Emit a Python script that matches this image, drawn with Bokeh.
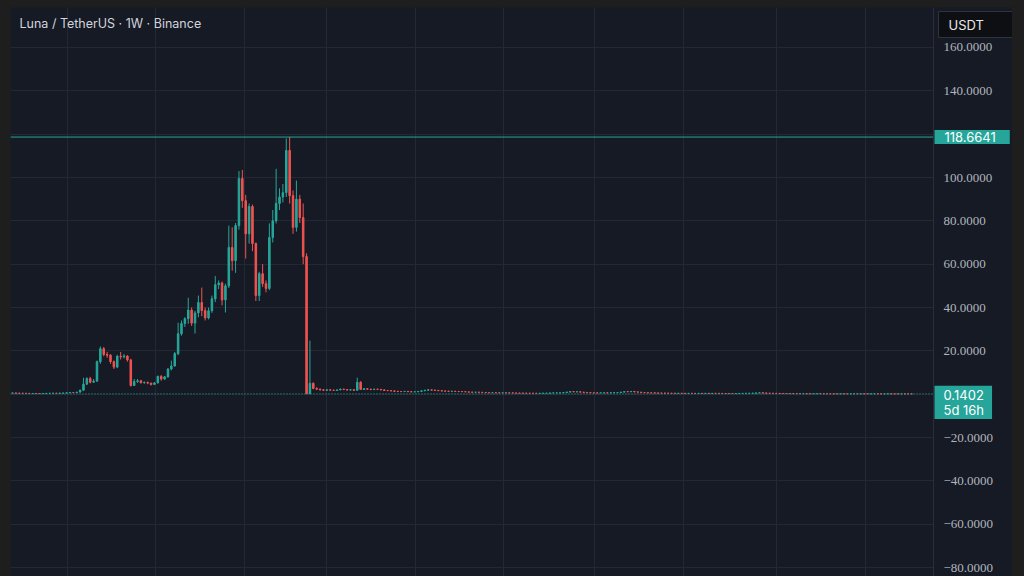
from bokeh.plotting import figure
from bokeh.models import (Range1d, FixedTicker, Span, Label, LabelSet,
                          BoxAnnotation, ColumnDataSource, Spacer)
from bokeh.layouts import column, row
from bokeh.embed import file_html
from bokeh.resources import INLINE

# ---------------- data (weekly candles) ----------------
symbol_title = "Luna / TetherUS · 1W · Binance"
currency = "USDT"
countdown = "5d 16h"

first_open = 0.50
close_ = [
    0.55, 0.47, 0.42, 0.40, 0.36, 0.30, 0.32, 0.31, 0.28, 0.32,
    0.38, 0.40, 0.45, 0.42, 0.48, 0.50, 0.62, 0.75, 0.72, 0.95,
    1.80, 4.60, 7.20, 5.50, 6.00, 15.00, 21.00, 18.30, 18.00, 15.00,
    12.50, 17.50, 17.20, 17.60, 15.80, 4.00, 5.80, 6.20, 5.30, 5.40,
    5.10, 4.50, 5.20, 8.20, 7.00, 8.00, 11.60, 13.00, 18.70, 27.90,
    32.60, 34.80, 38.80, 32.80, 37.50, 42.30, 38.60, 35.20, 38.50, 44.00,
    50.50, 51.30, 43.50, 50.00, 67.70, 61.60, 77.80, 99.50, 89.30, 74.00,
    86.60, 69.50, 45.50, 55.60, 51.00, 48.80, 72.30, 80.00, 88.00, 91.00,
    93.00, 112.50, 91.60, 77.00, 90.00, 81.50, 63.50, 0.20, 5.00, 2.60,
    2.30, 2.00, 1.80, 2.00, 1.85, 1.75, 1.95, 2.30, 2.10, 1.90,
    2.05, 1.80, 5.50, 2.20, 2.50, 2.30, 2.10, 2.30, 2.20, 2.00,
    1.70, 1.60, 1.50, 1.30, 1.25, 1.20, 1.30, 1.15, 1.05, 1.10,
    1.25, 1.55, 1.80, 2.00, 1.85, 1.75, 1.60, 1.45, 1.40, 1.30,
    1.35, 1.25, 1.20, 1.15, 1.05, 0.95, 0.90, 0.92, 0.85, 0.80,
    0.70, 0.65, 0.68, 0.66, 0.62, 0.65, 0.60, 0.58, 0.55, 0.50,
    0.48, 0.46, 0.43, 0.41, 0.40, 0.38, 0.40, 0.42, 0.45, 0.55,
    0.58, 0.60, 0.62, 0.75, 0.95, 1.20, 1.05, 1.10, 0.95, 0.80,
    0.70, 0.62, 0.60, 0.58, 0.62, 0.65, 0.60, 0.66, 0.70, 0.75,
    0.95, 1.20, 1.10, 1.25, 1.05, 0.95, 0.75, 0.70, 0.62, 0.60,
    0.55, 0.50, 0.47, 0.45, 0.43, 0.40, 0.38, 0.40, 0.38, 0.36,
    0.37, 0.35, 0.34, 0.36, 0.35, 0.37, 0.36, 0.38, 0.37, 0.35,
    0.33, 0.32, 0.31, 0.30, 0.32, 0.34, 0.38, 0.40, 0.42, 0.45,
    0.55, 0.62, 0.55, 0.45, 0.40, 0.38, 0.36, 0.33, 0.30, 0.28,
    0.26, 0.25, 0.24, 0.22, 0.23, 0.21, 0.20, 0.22, 0.23, 0.21,
    0.20, 0.19, 0.18, 0.17, 0.16, 0.17, 0.16, 0.15, 0.16, 0.17,
    0.16, 0.17, 0.16, 0.15, 0.16, 0.17, 0.16, 0.15, 0.155, 0.16,
    0.155, 0.15, 0.145, 0.15, 0.145, 0.142, 0.1402,
]
high_ = [
    0.65, 0.58, 0.50, 0.46, 0.43, 0.38, 0.36, 0.35, 0.33, 0.35,
    0.41, 0.46, 0.50, 0.49, 0.52, 0.56, 0.70, 0.85, 0.82, 1.05,
    2.10, 7.60, 7.80, 8.00, 7.00, 15.50, 22.00, 21.80, 19.50, 18.50,
    15.50, 18.20, 19.50, 18.50, 18.00, 16.30, 7.00, 7.00, 6.60, 5.90,
    5.80, 5.30, 5.60, 8.60, 8.80, 8.40, 12.00, 15.50, 19.50, 33.00,
    34.00, 35.50, 44.50, 40.00, 38.50, 45.50, 49.20, 40.00, 40.00, 45.50,
    54.50, 52.50, 52.00, 51.00, 77.80, 77.00, 79.00, 103.00, 103.50, 92.00,
    88.00, 87.50, 70.00, 56.50, 60.00, 52.50, 78.80, 85.00, 104.00, 95.00,
    97.00, 118.00, 118.6641, 94.00, 98.60, 92.00, 88.00, 65.00, 24.70, 5.50,
    3.20, 2.60, 2.30, 2.20, 2.20, 2.00, 2.10, 2.60, 2.50, 2.30,
    2.30, 2.20, 7.60, 6.00, 2.80, 2.70, 2.50, 2.50, 2.50, 2.30,
    2.10, 1.90, 1.80, 1.70, 1.50, 1.40, 1.40, 1.40, 1.20, 1.20,
    1.30, 1.70, 2.00, 2.30, 2.20, 2.00, 1.90, 1.70, 1.60, 1.50,
    1.50, 1.40, 1.30, 1.30, 1.20, 1.10, 1.00, 1.00, 0.95, 0.90,
    0.85, 0.75, 0.72, 0.72, 0.70, 0.70, 0.68, 0.64, 0.62, 0.58,
    0.53, 0.50, 0.48, 0.46, 0.44, 0.42, 0.43, 0.45, 0.48, 0.60,
    0.65, 0.66, 0.70, 0.80, 1.10, 1.35, 1.30, 1.25, 1.20, 1.00,
    0.85, 0.75, 0.66, 0.64, 0.68, 0.70, 0.70, 0.72, 0.78, 0.82,
    1.05, 1.35, 1.40, 1.45, 1.30, 1.15, 1.00, 0.80, 0.75, 0.68,
    0.64, 0.58, 0.54, 0.50, 0.48, 0.46, 0.43, 0.43, 0.42, 0.40,
    0.40, 0.39, 0.38, 0.39, 0.38, 0.40, 0.39, 0.41, 0.40, 0.39,
    0.37, 0.35, 0.34, 0.33, 0.34, 0.37, 0.42, 0.45, 0.48, 0.50,
    0.62, 0.75, 0.80, 0.58, 0.48, 0.43, 0.40, 0.38, 0.35, 0.32,
    0.30, 0.28, 0.27, 0.26, 0.25, 0.24, 0.23, 0.24, 0.25, 0.24,
    0.23, 0.21, 0.20, 0.19, 0.18, 0.18, 0.18, 0.17, 0.17, 0.19,
    0.18, 0.18, 0.18, 0.17, 0.18, 0.19, 0.18, 0.17, 0.17, 0.17,
    0.17, 0.16, 0.16, 0.16, 0.155, 0.15, 0.148,
]
low_ = [
    0.45, 0.43, 0.38, 0.35, 0.32, 0.27, 0.28, 0.28, 0.25, 0.27,
    0.31, 0.36, 0.39, 0.39, 0.40, 0.45, 0.48, 0.60, 0.65, 0.70,
    0.90, 1.70, 4.40, 5.00, 5.20, 5.80, 14.00, 17.50, 16.80, 14.00,
    11.60, 12.00, 16.00, 16.50, 15.00, 3.50, 3.80, 5.20, 4.90, 4.80,
    4.60, 4.00, 4.30, 5.00, 6.20, 6.50, 7.60, 11.00, 12.80, 18.00,
    27.00, 31.00, 32.50, 31.50, 28.00, 35.50, 36.00, 34.00, 34.50, 37.50,
    42.50, 48.50, 41.00, 37.70, 49.00, 57.00, 56.00, 76.00, 86.00, 62.60,
    69.50, 66.00, 43.00, 43.00, 49.50, 47.00, 48.00, 70.00, 78.80, 85.00,
    88.50, 91.00, 88.00, 74.00, 75.00, 79.00, 60.00, 0.05, 0.10, 2.30,
    1.90, 1.70, 1.60, 1.60, 1.70, 1.60, 1.60, 1.90, 1.90, 1.80,
    1.80, 1.60, 1.70, 2.00, 2.00, 2.10, 1.90, 2.00, 2.00, 1.80,
    1.60, 1.50, 1.40, 1.10, 1.20, 1.10, 1.10, 1.10, 0.95, 1.00,
    1.00, 1.20, 1.50, 1.70, 1.80, 1.60, 1.50, 1.30, 1.30, 1.20,
    1.20, 1.10, 1.10, 1.00, 1.00, 0.90, 0.85, 0.85, 0.80, 0.75,
    0.60, 0.60, 0.60, 0.62, 0.58, 0.58, 0.56, 0.55, 0.50, 0.45,
    0.44, 0.42, 0.40, 0.38, 0.36, 0.35, 0.36, 0.38, 0.40, 0.44,
    0.52, 0.54, 0.56, 0.60, 0.72, 0.90, 0.95, 0.95, 0.90, 0.72,
    0.62, 0.58, 0.55, 0.52, 0.55, 0.58, 0.56, 0.58, 0.62, 0.66,
    0.72, 0.90, 1.00, 1.05, 0.95, 0.90, 0.70, 0.60, 0.58, 0.55,
    0.50, 0.46, 0.44, 0.42, 0.40, 0.37, 0.35, 0.36, 0.35, 0.33,
    0.34, 0.31, 0.30, 0.32, 0.32, 0.33, 0.34, 0.34, 0.35, 0.33,
    0.31, 0.30, 0.29, 0.28, 0.29, 0.31, 0.33, 0.36, 0.38, 0.40,
    0.43, 0.52, 0.50, 0.42, 0.36, 0.35, 0.33, 0.30, 0.27, 0.25,
    0.24, 0.22, 0.21, 0.20, 0.20, 0.19, 0.18, 0.19, 0.20, 0.19,
    0.18, 0.17, 0.16, 0.15, 0.15, 0.15, 0.15, 0.14, 0.14, 0.15,
    0.15, 0.15, 0.15, 0.14, 0.14, 0.15, 0.15, 0.14, 0.14, 0.145,
    0.145, 0.14, 0.135, 0.14, 0.135, 0.135, 0.136,
]
price_ticks = [-80, -60, -40, -20, 0, 20, 40, 60, 80, 100, 120, 140, 160]
# half-year grid lines (Jan / Jul), in week-index units
grid_weeks = [16.3, 42.3, 68.6, 92.9, 119.2, 145.3, 172.2, 198.5, 226.0, 252.4]

assert len(close_) == len(high_) == len(low_)

# ---------------- styling ----------------
UP = "#26a69a"
DOWN = "#ef5350"
PANEL = "#161a25"
OUTER = "#1e1e1e"
GRID = "#242835"
SEP = "#2a2e39"
TEXT = "#b2b5be"
FONT = "Inter"

n = len(close_)
open_ = [first_open] + close_[:-1]
src = ColumnDataSource(dict(
    x=list(range(n)),
    open=open_, close=close_, high=high_, low=low_,
    top=[max(o, c) for o, c in zip(open_, close_)],
    bottom=[min(o, c) for o, c in zip(open_, close_)],
    color=[UP if c >= o else DOWN for o, c in zip(open_, close_)],
))

FIG_W, FIG_H = 1002, 569
AXIS_W = 79                      # width of the price scale strip
PX_PER_WEEK = 3.38
X0 = -0.59
x_end = X0 + FIG_W / PX_PER_WEEK          # frame spans the whole figure
scale_x = X0 + (FIG_W - AXIS_W) / PX_PER_WEEK   # where the price scale begins

fig = figure(
    width=FIG_W, height=FIG_H,
    x_range=Range1d(X0, x_end), y_range=Range1d(-84.15, 178.46),
    x_axis_location=None, y_axis_location=None,
    output_backend="svg", toolbar_location=None,
    background_fill_color=PANEL, border_fill_color=PANEL,
    min_border_left=0, min_border_top=0, min_border_bottom=0,
    min_border_right=0,
)
fig.outline_line_color = None

for g in fig.grid:
    g.grid_line_color = GRID
    if g.dimension == 0:
        g.ticker = FixedTicker(ticks=grid_weeks)
    else:
        g.ticker = FixedTicker(ticks=price_ticks)

# candles
fig.segment(x0="x", y0="low", x1="x", y1="high", line_color="color",
            line_width=1, source=src)
fig.vbar(x="x", width=0.45, top="top", bottom="bottom", fill_color="color",
         line_color="color", line_width=1, source=src)

# price lines
hi = max(high_)
last = close_[-1]
fig.add_layout(Span(location=hi, dimension="width", line_color=UP, line_width=1))
fig.add_layout(Span(location=last, dimension="width", line_color=UP,
                    line_width=1, line_dash="1 2"))

# price-scale strip on the right
fig.add_layout(BoxAnnotation(left=scale_x, fill_color=PANEL, fill_alpha=1.0,
                             line_color=None))
fig.add_layout(Span(location=scale_x, dimension="height", line_color=SEP,
                    line_width=1))

frame_w = FIG_W - AXIS_W
tick_src = ColumnDataSource(dict(
    y=price_ticks,
    text=[("\u2212" if t < 0 else "") + f"{abs(t):.4f}" for t in price_ticks],
))
fig.add_layout(LabelSet(x=frame_w + 10, y="y", text="text", x_units="screen",
                        source=tick_src, text_font=FONT, text_font_size="13px",
                        text_color=TEXT, text_baseline="middle",
                        text_align="left"))

# title
fig.add_layout(Label(x=9, y=FIG_H - 16, x_units="screen", y_units="screen",
                     text=symbol_title, text_font=FONT, text_font_size="12.5px",
                     text_color="#d1d4dc", text_baseline="middle",
                     text_align="left"))

# high price tag
fig.add_layout(Label(x=frame_w + 1, y=hi, x_units="screen", y_units="data",
                     text=f"{hi:.4f}", text_font=FONT, text_font_size="13px",
                     text_color="#ffffff", text_baseline="middle",
                     text_align="left", background_fill_color=UP,
                     padding=dict(left=10, right=14, top=2, bottom=2)))
# last price tag
fig.add_layout(Label(x=frame_w + 1, y=last, x_units="screen", y_units="data",
                     y_offset=8,
                     text=f"{last:.4f}\n{countdown}", text_font=FONT,
                     text_font_size="13px", text_color="#ffffff",
                     text_baseline="top", text_align="left",
                     text_line_height=0.95,
                     background_fill_color=UP,
                     padding=dict(left=9, right=8, top=1, bottom=1)))
# currency badge
fig.add_layout(Label(x=frame_w + 5, y=FIG_H - 17, x_units="screen",
                     y_units="screen", text=currency, text_font=FONT,
                     text_font_size="13px", text_color="#e8e8ea",
                     text_baseline="middle", text_align="left",
                     background_fill_color="#0e0f13",
                     border_line_color="#30333d", border_line_width=1,
                     padding=dict(left=10, right=32, top=5, bottom=5)))

p = column(
    Spacer(width=1024, height=7),
    row(Spacer(width=10, height=FIG_H), fig, Spacer(width=12, height=FIG_H)),
    styles={"background-color": OUTER},
)

open("out.html", "w").write(file_html(p, INLINE))
